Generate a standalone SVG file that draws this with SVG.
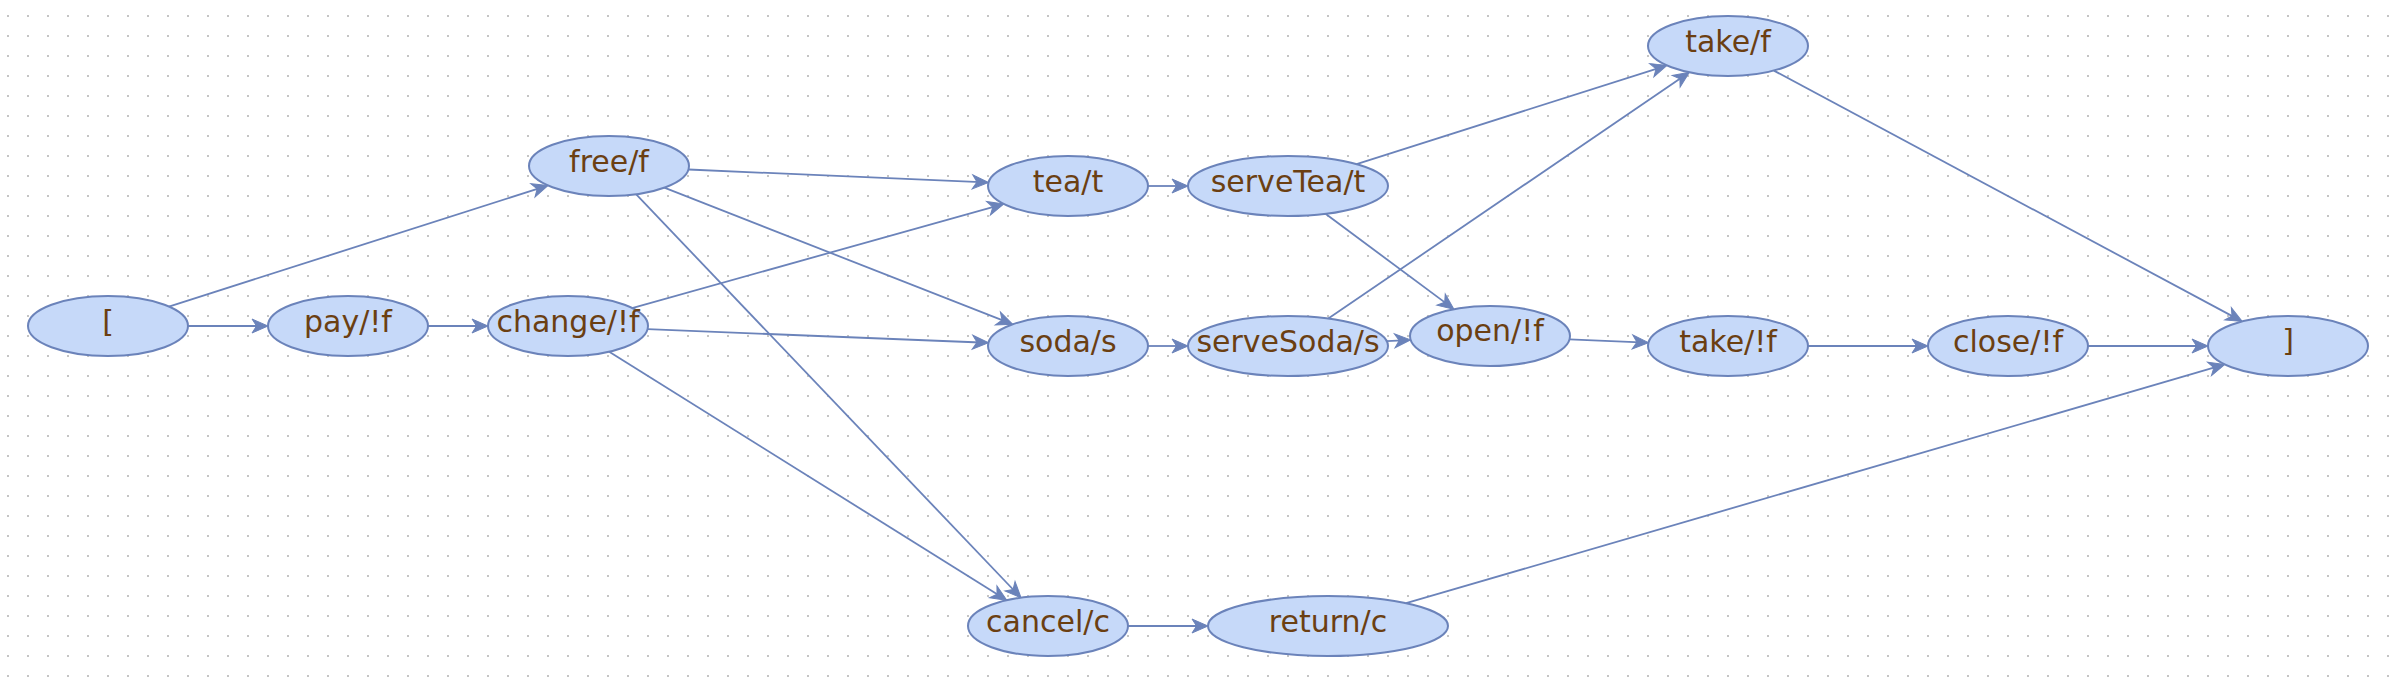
<svg xmlns="http://www.w3.org/2000/svg" width="2390" height="678" viewBox="0 0 2390 678">
<defs>
<pattern id="grid" x="0" y="0" width="20" height="20" patternUnits="userSpaceOnUse">
<rect x="7" y="15" width="2" height="2" fill="#c4c4c4"/>
</pattern>
<marker id="arr" markerUnits="userSpaceOnUse" markerWidth="30" markerHeight="30" refX="0" refY="0" orient="auto" overflow="visible" viewBox="-15 -15 30 30">
<path d="M8,0 L-8,-7 L-3.5,0 L-8,7 Z" fill="#6b83ba" stroke="#6b83ba" stroke-width="1" stroke-linejoin="miter"/>
</marker>
<style>
.n ellipse{fill:#c6d9f9;stroke:#6b83ba;stroke-width:2}
.n text{font-family:"DejaVu Sans","Noto Sans",sans-serif;font-size:30px;fill:#6b3f12;text-anchor:middle}
#edges line{stroke:#6b83ba;stroke-width:1.8;fill:none;marker-end:url(#arr)}
</style>
</defs>
<rect width="2390" height="678" fill="#ffffff"/>
<rect width="2390" height="678" fill="url(#grid)"/>
<g id="edges">
<line x1="188" y1="326" x2="260" y2="326"/>
<line x1="168.9" y1="306.6" x2="540.5" y2="187.9"/>
<line x1="428" y1="326" x2="480" y2="326"/>
<line x1="688.5" y1="169.5" x2="980.5" y2="182.2"/>
<line x1="664.3" y1="187.7" x2="1005.3" y2="321.4"/>
<line x1="636.0" y1="194.2" x2="1015.5" y2="592.0"/>
<line x1="632.1" y1="308.1" x2="996.2" y2="206.1"/>
<line x1="647.5" y1="329.2" x2="980.5" y2="342.5"/>
<line x1="609.2" y1="351.7" x2="1000.0" y2="596.0"/>
<line x1="1148" y1="186" x2="1180" y2="186"/>
<line x1="1148" y1="346" x2="1180" y2="346"/>
<line x1="1356.6" y1="164.2" x2="1659.4" y2="67.8"/>
<line x1="1325.5" y1="213.8" x2="1447.5" y2="304.4"/>
<line x1="1328.3" y1="318.5" x2="1682.8" y2="76.8"/>
<line x1="1386.7" y1="341.1" x2="1402.7" y2="340.3"/>
<line x1="1569.5" y1="339.3" x2="1640.5" y2="342.3"/>
<line x1="1808" y1="346" x2="1920" y2="346"/>
<line x1="2088" y1="346" x2="2200" y2="346"/>
<line x1="1773.9" y1="70.6" x2="2235.1" y2="317.6"/>
<line x1="1128" y1="626" x2="1200" y2="626"/>
<line x1="1406.1" y1="603.2" x2="2217.2" y2="366.7"/>
</g>
<g id="start" class="n"><ellipse cx="108" cy="326" rx="80" ry="30"/><text x="108" y="332">[</text></g>
<g id="pay" class="n"><ellipse cx="348" cy="326" rx="80" ry="30"/><text x="348" y="332">pay/!f</text></g>
<g id="change" class="n"><ellipse cx="568" cy="326" rx="80" ry="30"/><text x="568" y="332">change/!f</text></g>
<g id="free" class="n"><ellipse cx="609" cy="166" rx="80" ry="30"/><text x="609" y="172">free/f</text></g>
<g id="tea" class="n"><ellipse cx="1068" cy="186" rx="80" ry="30"/><text x="1068" y="192">tea/t</text></g>
<g id="soda" class="n"><ellipse cx="1068" cy="346" rx="80" ry="30"/><text x="1068" y="352">soda/s</text></g>
<g id="serveTea" class="n"><ellipse cx="1288" cy="186" rx="100" ry="30"/><text x="1288" y="192">serveTea/t</text></g>
<g id="serveSoda" class="n"><ellipse cx="1288" cy="346" rx="100" ry="30"/><text x="1288" y="352">serveSoda/s</text></g>
<g id="open" class="n"><ellipse cx="1490" cy="336" rx="80" ry="30"/><text x="1490" y="341">open/!f</text></g>
<g id="takeF" class="n"><ellipse cx="1728" cy="46" rx="80" ry="30"/><text x="1728" y="52">take/f</text></g>
<g id="takeNotF" class="n"><ellipse cx="1728" cy="346" rx="80" ry="30"/><text x="1728" y="352">take/!f</text></g>
<g id="close" class="n"><ellipse cx="2008" cy="346" rx="80" ry="30"/><text x="2008" y="352">close/!f</text></g>
<g id="end" class="n"><ellipse cx="2288" cy="346" rx="80" ry="30"/><text x="2288" y="351">]</text></g>
<g id="cancel" class="n"><ellipse cx="1048" cy="626" rx="80" ry="30"/><text x="1048" y="632">cancel/c</text></g>
<g id="return" class="n"><ellipse cx="1328" cy="626" rx="120" ry="30"/><text x="1328" y="632">return/c</text></g>
</svg>
